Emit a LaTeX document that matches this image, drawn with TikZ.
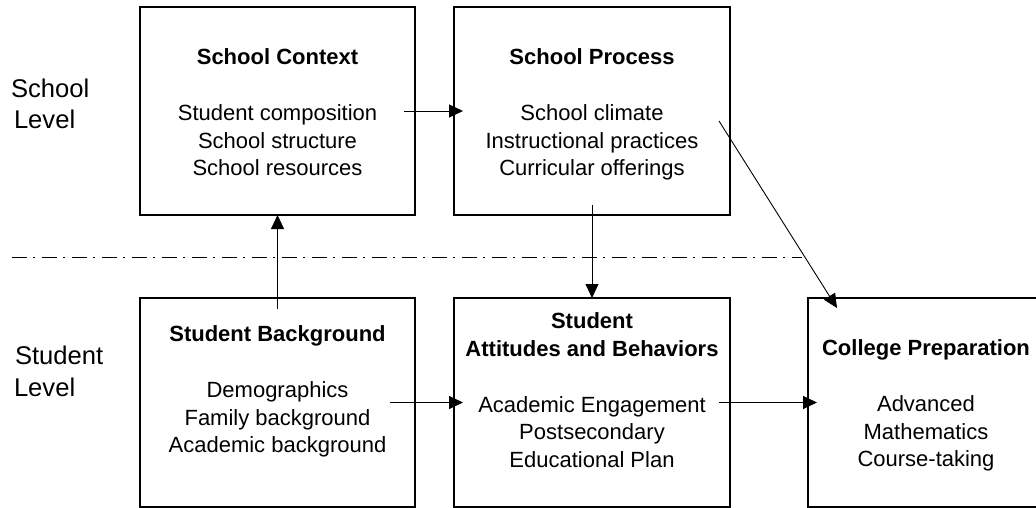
\documentclass[tikz,border=0pt]{standalone}
\usepackage{fontspec}
\setmainfont{Liberation Sans}
\usetikzlibrary{arrows.meta}
\begin{document}
\begin{tikzpicture}[x=1pt,y=-1pt,
  box/.style={draw, line width=1.2pt, rectangle, inner sep=0pt, outer sep=0pt},
  txt/.style={align=center, inner sep=0pt, outer sep=0pt, anchor=north, font=\fontsize{22}{27.5}\selectfont},
  lvl/.style={inner sep=0pt, outer sep=0pt, anchor=base west, font=\fontsize{25.6}{31}\selectfont},
  arr/.style={line width=0.9pt, -{Triangle[length=14pt,width=13pt]}},
  dashdot/.style={line width=1pt, dash pattern=on 15pt off 6pt on 2pt off 7pt}
]
\useasboundingbox (0,0) rectangle (1036,508);

% boxes
\node[box, minimum width=275pt, minimum height=208pt] (ctx) at (277.5,111) {};
\node[box, minimum width=276pt, minimum height=208pt] (proc) at (592,111) {};
\node[box, minimum width=275pt, minimum height=209pt] (bg) at (277.5,402.5) {};
\node[box, minimum width=276pt, minimum height=209pt] (att) at (592,402.5) {};
\node[box, minimum width=238pt, minimum height=209pt] (col) at (927,402.5) {};

% box texts
\node[txt] (ctxT) at (277.5,49) {\textbf{School Context}\\[28.5pt]Student composition\\School structure\\School resources};
\node[txt] (procT) at (592,49) {\textbf{School Process}\\[28.5pt]School climate\\Instructional practices\\Curricular offerings};
\node[txt] (bgT) at (277.5,325.7) {\textbf{Student Background}\\[28.5pt]Demographics\\Family background\\Academic background};
\node[txt] (attT) at (592,313) {\textbf{Student}\\\textbf{Attitudes and Behaviors}\\[28.5pt]Academic Engagement\\Postsecondary\\Educational Plan};
\node[txt] (colT) at (926,339.7) {\textbf{College Preparation}\\[28.5pt]Advanced\\Mathematics\\Course-taking};

% level labels
\node[lvl] (sch1) at (11,97.5) {School};
\node[lvl] (sch2) at (14,128.5) {Level};
\node[lvl] (stu1) at (15,364) {Student};
\node[lvl] (stu2) at (14,396) {Level};

% dash-dot separator
\coordinate (dl) at (12,257);
\coordinate (dr) at (802,257);
\draw[dashdot] (dl) -- (dr);

% arrows
\draw[arr] ([xshift=-11pt]ctx.east) -- ([xshift=9pt]proc.west);
\draw[arr] ([yshift=-11pt]bg.north) -- (ctx.south);
\draw[arr] ([yshift=10pt]proc.south) -- (att.north);
\draw[arr] ([xshift=-25pt]bg.east) -- ([xshift=9pt]att.west);
\draw[arr] ([xshift=-11pt]att.east) -- ([xshift=9pt]col.west);
\draw[arr] ([xshift=-11pt,yshift=-10pt]proc.east) -- ([xshift=29pt,yshift=-10pt]col.north west);
\end{tikzpicture}
\end{document}
